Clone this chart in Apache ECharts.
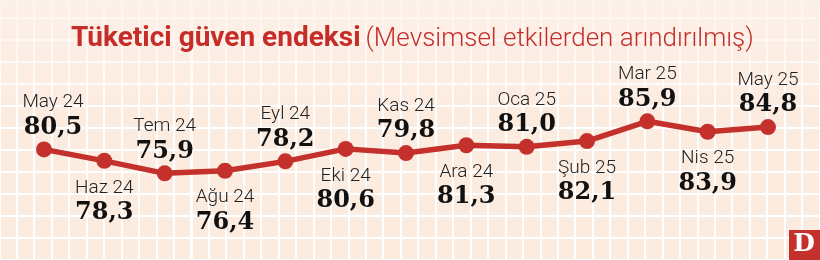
<!DOCTYPE html>
<html>
<head>
<meta charset="utf-8">
<script src="https://cdn.jsdelivr.net/npm/echarts@6/dist/echarts.min.js"></script>
<style>
  html, body { margin: 0; padding: 0; }
  #chart {
    width: 820px;
    height: 260px;
    /* graph paper look: white lines on peach, faded near the title */
    background-image:
      linear-gradient(to bottom, rgba(253,241,234,0.8) 0px, rgba(253,241,234,0) 120px),
      repeating-linear-gradient(to bottom, #ffffff 0px, #ffffff 2px, rgba(255,255,255,0) 2px, rgba(255,255,255,0) 22px),
      repeating-linear-gradient(to right, #ffffff 0px, #ffffff 2px, #fcebdf 2px, #fcebdf 17.45px);
    background-position: 0 0, 0 17px, 16px 0;
  }
</style>
</head>
<body>
<div id="chart"></div>
<script>
  const months = ['May 24', 'Haz 24', 'Tem 24', 'Ağu 24', 'Eyl 24', 'Eki 24', 'Kas 24',
                  'Ara 24', 'Oca 25', 'Şub 25', 'Mar 25', 'Nis 25', 'May 25'];
  const values = [80.5, 78.3, 75.9, 76.4, 78.2, 80.6, 79.8, 81.3, 81.0, 82.1, 85.9, 83.9, 84.8];

  const red = '#c4302b';

  let chart = echarts.init(document.getElementById('chart'));

  // labels alternate above / below the points
  const points = values.map((v, i) => {
    const up = i % 2 === 0;
    return {
      value: v,
      label: {
        position: up ? 'top' : 'bottom',
        distance: up ? 1.5 : 6.5,
        offset: i === 0 ? [9, 0] : [0, 0]
      }
    };
  });

  const option = {
    animation: false,
    title: {
      text: '{a|Tüketici güven endeksi} {b|(Mevsimsel etkilerden arındırılmış)}',
      left: 66,
      top: 20,
      textStyle: {
        rich: {
          a: { fontFamily: 'Roboto', fontWeight: 700, fontSize: 28, color: '#c62d28' },
          b: { fontFamily: 'Roboto', fontWeight: 300, fontSize: 26, color: '#c62d28' }
        }
      }
    },
    grid: {
      left: 44,
      right: 52,
      top: 100,
      bottom: 56
    },
    xAxis: {
      type: 'category',
      boundaryGap: false,
      data: months,
      show: false
    },
    yAxis: {
      type: 'value',
      min: 70,
      max: 90,
      show: false
    },
    series: [
      {
        type: 'line',
        data: points,
        symbol: 'circle',
        symbolSize: 16,
        lineStyle: { color: red, width: 5.5 },
        itemStyle: { color: red },
        label: {
          show: true,
          align: 'center',
          formatter: function (p) {
            return '{m|' + months[p.dataIndex] + '}\n{v|' + p.value.toFixed(1).replace('.', ',') + '}';
          },
          rich: {
            m: { fontFamily: 'Roboto', fontWeight: 300, fontSize: 19, lineHeight: 25, color: '#222' },
            v: { fontFamily: 'DejaVu Serif', fontWeight: 'bold', fontSize: 24, lineHeight: 25, color: '#111' }
          }
        }
      }
    ],
    graphic: [
      {
        type: 'rect',
        right: 0,
        bottom: 0,
        shape: { width: 31, height: 30 },
        style: { fill: '#c4302b' }
      },
      {
        type: 'text',
        right: 5,
        bottom: 3,
        style: {
          text: 'D',
          fill: '#fff',
          font: 'bold 25px "DejaVu Serif"'
        }
      }
    ]
  };

  chart.setOption(option);
</script>
</body>
</html>
